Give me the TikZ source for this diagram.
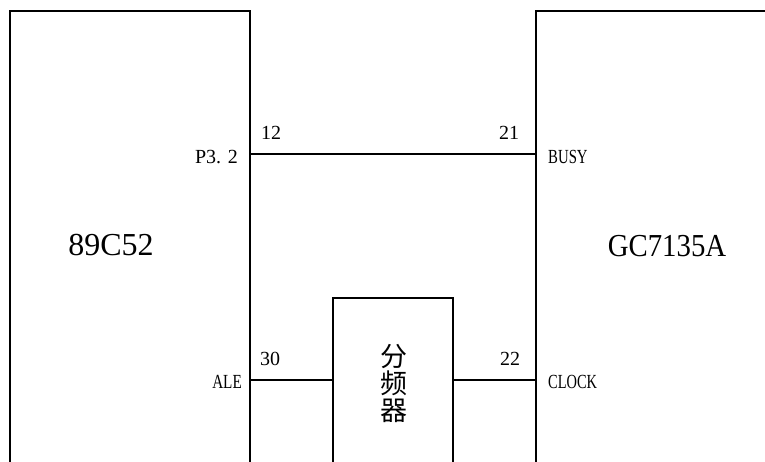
\documentclass[tikz,border=0pt]{standalone}
\usepackage{fontspec}
\setmainfont{Liberation Serif}
\newfontfamily\cjk{Noto Sans CJK SC}
\tikzset{
  wire/.style={line width=2pt, line cap=rect},
  pinnum/.style={inner sep=0pt, font=\fontsize{20}{22}\selectfont},
  pinname/.style={inner sep=0pt, font=\fontsize{20}{22}\selectfont},
  chipname/.style={inner sep=0pt, font=\fontsize{32}{36}\selectfont},
  boxnode/.style={inner sep=0pt, outer sep=0pt, draw=none},
}
\begin{document}
\begin{tikzpicture}[x=1pt,y=-1pt]
\useasboundingbox (0,0) rectangle (765,461);
\clip (0,0) rectangle (765,461);
% boxes (open at bottom / right)
\node[boxnode, minimum width=240pt, minimum height=451.5pt] (mcu) at (129.5,236.25) {};
\node[boxnode, minimum width=240pt, minimum height=451.5pt] (gc) at (656,236.25) {};
\node[boxnode, minimum width=120pt, minimum height=164.5pt] (div) at (393,379.75) {};
\draw[wire] (mcu.south west) -- (mcu.north west) -- (mcu.north east) -- (mcu.south east);
\draw[wire] (gc.south west) -- (gc.north west) -- (gc.north east);
\draw[wire] (div.south west) -- (div.north west) -- (div.north east) -- (div.south east);
% pin points
\coordinate (p32) at (249.5,154);
\coordinate (busy) at (536,154);
\coordinate (ale) at (249.5,380);
\coordinate (clock) at (536,380);
\coordinate (divin) at (333,380);
\coordinate (divout) at (453,380);
% connectors
\draw[wire] (p32) -- (busy);
\draw[wire] (ale) -- (divin);
\draw[wire] (divout) -- (clock);
% labels
\node[chipname] (n1) at (111,245) {89C52};
\node[chipname] (n2) at (667,246) {\scalebox{0.9}[1]{GC7135A}};
\node[pinnum] (l12) at (271,133) {12};
\node[pinnum] (l21) at (509,133) {21};
\node[pinnum] (l30) at (270,359) {30};
\node[pinnum] (l22) at (510,359) {22};
\node[pinname, anchor=east] (lp32) at (238,157) {P3. 2};
\node[pinname, anchor=west] (lbusy) at (548,157) {\scalebox{0.74}[1]{BUSY}};
\node[pinname, anchor=east] (lale) at (242,382) {\scalebox{0.76}[1]{ALE}};
\node[pinname, anchor=west] (lclock) at (548,382) {\scalebox{0.72}[1]{CLOCK}};
\node[inner sep=0pt, align=center, font=\cjk\fontsize{27}{27}\selectfont] (ldiv) at (394,383) {分\\频\\器};
\end{tikzpicture}
\end{document}
